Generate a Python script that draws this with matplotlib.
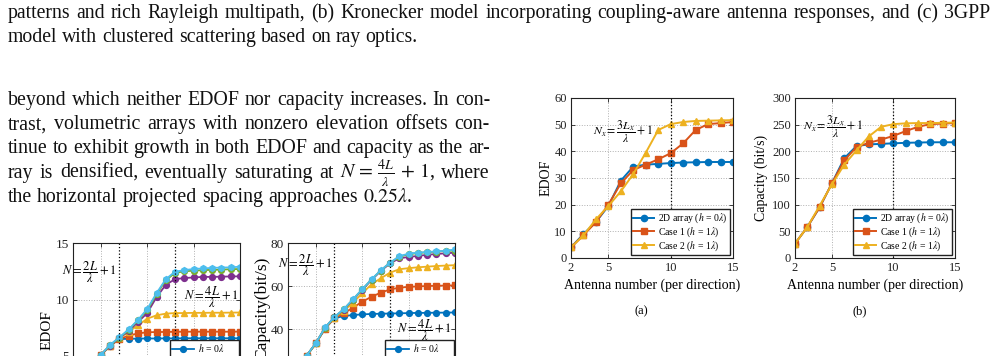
import matplotlib
matplotlib.use('Agg')
import matplotlib.pyplot as plt

W, H = 999, 356

# ---- data ----
N_A = list(range(2, 16))
EDOF_2D = [4, 9, 13.5, 19.5, 29, 34.3, 35, 35.3, 35.6, 35.8, 35.9, 36, 36, 36]
EDOF_C1 = [4, 8.5, 13.5, 20, 28, 33, 35, 37, 39.3, 43, 48, 50.2, 50.6, 51]
EDOF_C2 = [4, 8.5, 14.5, 19.5, 25, 31.5, 39.5, 48, 50.2, 51, 51.4, 51.5, 51.6, 51.7]
CAP_2D = [27, 58, 95, 140, 187, 210, 213, 214, 215, 216, 216.5, 217, 217, 217]
CAP_C1 = [27, 58, 95, 140, 183, 208, 216, 222, 229, 238, 246, 251, 252, 253]
CAP_C2 = [27, 58, 98, 138, 175, 202, 228, 246, 251, 252.5, 253, 253, 253.5, 254]
LEG_A = ['2D array ($h$ = 0$\\lambda$)', 'Case 1 ($h$ = 1$\\lambda$)', 'Case 2 ($h$ = 1$\\lambda$)']

N_C = list(range(2, 21))
H_LABELS = ['$h$ = 0$\\lambda$', '$h$ = 0.25$\\lambda$', '$h$ = 0.5$\\lambda$',
            '$h$ = 0.75$\\lambda$', '$h$ = 1$\\lambda$', '$h$ = 1.25$\\lambda$']
EDOF_H = [
    [3.0, 3.7, 4.4, 5.1, 5.9, 6.5, 6.52, 6.54, 6.55, 6.55, 6.56, 6.56, 6.57, 6.57, 6.57, 6.57, 6.57, 6.57, 6.57],
    [3.0, 3.7, 4.4, 5.1, 5.9, 6.5, 6.8, 7.0, 7.1, 7.12, 7.13, 7.14, 7.15, 7.15, 7.15, 7.15, 7.15, 7.15, 7.16],
    [3.0, 3.7, 4.4, 5.1, 5.9, 6.6, 7.15, 7.7, 8.3, 8.6, 8.75, 8.8, 8.8, 8.82, 8.82, 8.83, 8.83, 8.84, 8.85],
    [3.0, 3.7, 4.4, 5.1, 5.9, 6.6, 7.2, 8.0, 8.8, 10.2, 11.3, 11.8, 11.9, 11.95, 12.0, 12.0, 12.02, 12.04, 12.05],
    [3.0, 3.7, 4.4, 5.1, 5.95, 6.62, 7.3, 8.15, 9.05, 10.45, 11.7, 12.35, 12.5, 12.55, 12.6, 12.62, 12.65, 12.68, 12.7],
    [3.0, 3.7, 4.4, 5.1, 6.0, 6.65, 7.36, 8.19, 9.16, 10.55, 11.8, 12.46, 12.6, 12.7, 12.75, 12.8, 12.82, 12.85, 12.9],
]
CAP_H = [
    [15, 21, 27.5, 33.3, 40.2, 45.0, 46.0, 46.5, 46.8, 47.0, 47.1, 47.2, 47.3, 47.4, 47.5, 47.5, 47.6, 47.6, 47.7],
    [15, 21, 27.5, 33.3, 40.2, 45.0, 47.3, 49.9, 52.7, 55.0, 56.9, 58.4, 59.2, 59.6, 59.8, 60.0, 60.1, 60.2, 60.3],
    [15, 21, 27.5, 33.3, 40.5, 45.3, 48.4, 52.2, 56.6, 60.8, 63.6, 66.2, 67.8, 68.3, 68.7, 69.0, 69.3, 69.5, 69.7],
    [15, 21, 27.5, 33.4, 40.6, 45.5, 49.0, 53.5, 58.2, 62.8, 67.0, 70.5, 72.9, 73.5, 74.0, 74.5, 74.9, 75.2, 75.5],
    [15, 21, 27.5, 33.4, 40.6, 45.5, 49.1, 53.7, 58.4, 63.0, 67.2, 70.8, 73.6, 74.8, 75.3, 75.7, 76.0, 76.3, 76.5],
    [15, 21, 27.6, 33.5, 40.7, 45.6, 49.2, 53.8, 58.5, 63.1, 67.3, 70.9, 73.8, 75.1, 75.5, 75.8, 76.1, 76.4, 77.0],
]

CAPTION = [
    'patterns and rich Rayleigh multipath, (b) Kronecker model incorporating coupling-aware antenna responses, and (c) 3GPP',
    'model with clustered scattering based on ray optics.',
]
BODY = [
    'beyond which neither EDOF nor capacity increases. In con-'.split(),
    'trast, volumetric arrays with nonzero elevation offsets con-'.split(),
    'tinue to exhibit growth in both EDOF and capacity as the ar-'.split(),
    ['ray', 'is', 'densified,', 'eventually', 'saturating', 'at',
     '$N\\,=\\,\\frac{4L}{\\lambda}\\,+\\,1$,', 'where'],
    ['the', 'horizontal', 'projected', 'spacing', 'approaches', '$0.25\\lambda$.'],
]

COLORS = ['#0072BD', '#D95319', '#EDB120', '#7E2F8E', '#77AC30', '#4DBEEE']
MARKERS = ['o', 's', '^', 'o', 'o', 'h']

plt.rcParams.update({
    'font.family': 'serif',
    'font.serif': ['Liberation Serif'],
    'mathtext.fontset': 'stix',
    'axes.linewidth': 0.8,
    'xtick.direction': 'in',
    'ytick.direction': 'in',
    'xtick.top': True,
    'ytick.right': True,
    'xtick.major.size': 3,
    'ytick.major.size': 3,
    'xtick.major.width': 0.6,
    'ytick.major.width': 0.6,
})

fig = plt.figure(figsize=(W / 100, H / 100), dpi=100)
rend = fig.canvas.get_renderer()


def px_axes(left, top, right, bottom):
    return fig.add_axes([left / W, 1 - bottom / H, (right - left) / W, (bottom - top) / H])


def fit_size(s, width, base=10):
    t = fig.text(0, 0, s, fontsize=base)
    w = t.get_window_extent(rend).width
    t.remove()
    return base * width / w


def put_line(tokens, x0, y, size, x1=None):
    arts = [fig.text(0, 0, t, fontsize=size, va='baseline', ha='left', color='#111111')
            for t in tokens]
    widths = [a.get_window_extent(rend).width for a in arts]
    if x1 is None:
        gap = 0.25 * size * 100 / 72
    else:
        gap = (x1 - x0 - sum(widths)) / (len(tokens) - 1)
    x = x0
    for a, w in zip(arts, widths):
        a.set_position((x / W, 1 - y / H))
        x += w + gap


def style(ax, fs):
    ax.grid(True, ls=':', color='#b0b0b0', lw=0.7)
    ax.tick_params(labelsize=fs, pad=3, colors='#222222')
    for s in ax.spines.values():
        s.set_color('#222222')


LEG_KW = dict(frameon=True, fancybox=False, edgecolor='#222222', borderpad=0.25,
              labelspacing=0.02, handlelength=2.2, handletextpad=0.4, framealpha=1)

# ---- text ----
cap_fs = fit_size(CAPTION[0], 968)
put_line(CAPTION[0].split(), 8, 18, cap_fs, x1=990)
put_line(CAPTION[1].split(), 8, 42, cap_fs)

body_fs = fit_size(' '.join(BODY[4]), 405)
for i, toks in enumerate(BODY):
    y = 105 + 24.2 * i
    put_line(toks, 8, y, body_fs, x1=490 if i < 4 else None)

# ---- (a) EDOF ----
ax = px_axes(571, 98, 733, 258)
ax.plot(N_A, EDOF_2D, color=COLORS[0], marker='o', ms=4.5, lw=1.4, label=LEG_A[0])
ax.plot(N_A, EDOF_C1, color=COLORS[1], marker='s', ms=3.8, lw=1.4, label=LEG_A[1])
ax.plot(N_A, EDOF_C2, color=COLORS[2], marker='^', ms=4.5, lw=1.4, label=LEG_A[2])
ax.axvline(10, color='k', ls=':', lw=0.9)
ax.set_xlim(2, 15)
ax.set_ylim(0, 60)
ax.set_xticks([2, 5, 10, 15])
ax.set_yticks(range(0, 61, 10))
style(ax, 9)
ax.set_xlabel('Antenna number (per direction)', fontsize=10, labelpad=3)
ax.set_ylabel('EDOF', fontsize=10)
ax.yaxis.set_label_coords(-0.117, 0.5)
ax.text(3.75, 47.3, '$N_x = \\dfrac{3L_x}{\\lambda} + 1$', fontsize=8.5, va='center')
ax.legend(loc='lower right', fontsize=7, borderaxespad=0.3, **LEG_KW)
fig.text(641 / W, 1 - 311 / H, '(a)', fontsize=9, ha='center', va='center')

# ---- (b) capacity ----
ax = px_axes(795, 98, 955, 258)
ax.plot(N_A, CAP_2D, color=COLORS[0], marker='o', ms=4.5, lw=1.4, label=LEG_A[0])
ax.plot(N_A, CAP_C1, color=COLORS[1], marker='s', ms=3.8, lw=1.4, label=LEG_A[1])
ax.plot(N_A, CAP_C2, color=COLORS[2], marker='^', ms=4.5, lw=1.4, label=LEG_A[2])
ax.axvline(10, color='k', ls=':', lw=0.9)
ax.set_xlim(2, 15)
ax.set_ylim(0, 300)
ax.set_xticks([2, 5, 10, 15])
ax.set_yticks(range(0, 301, 50))
style(ax, 9)
ax.set_xlabel('Antenna number (per direction)', fontsize=10, labelpad=3)
ax.set_ylabel('Capacity (bit/s)', fontsize=10)
ax.yaxis.set_label_coords(-0.17, 0.5)
ax.text(2.65, 246, '$N_x = \\dfrac{3L_x}{\\lambda} + 1$', fontsize=8.5, va='center')
ax.legend(loc='lower right', fontsize=7, borderaxespad=0.3, **LEG_KW)
fig.text(860 / W, 1 - 311 / H, '(b)', fontsize=9, ha='center', va='center')

# ---- (c) EDOF vs h, cut by the page edge ----
ax = px_axes(73, 243, 240, 412.5)
for ys, c, m, lab in zip(EDOF_H, COLORS, MARKERS, H_LABELS):
    ax.plot(N_C, ys, color=c, marker=m, ms=4.2, lw=1.3, label=lab)
ax.axvline(7, color='k', ls=':', lw=0.9)
ax.axvline(13, color='k', ls=':', lw=0.9)
ax.set_xlim(2, 20)
ax.set_ylim(0, 15)
ax.set_xticks([2, 5, 10, 15, 20])
ax.set_yticks([0, 5, 10, 15])
style(ax, 9.5)
ax.tick_params(axis='x', labelbottom=False)  # below the page edge anyway
ax.set_ylabel('EDOF', fontsize=11)
ax.yaxis.set_label_coords(-0.114, 0.487)
ax.text(0.85, 12.43, '$N = \\dfrac{2L}{\\lambda} + 1$', fontsize=9, va='center')
ax.text(13.95, 10.2, '$N = \\dfrac{4L}{\\lambda} + 1$', fontsize=9, va='center')
ax.legend(loc='upper left', bbox_to_anchor=(0.58, 0.428), fontsize=7, borderaxespad=0, **LEG_KW)

# ---- (d) capacity vs h ----
ax = px_axes(288, 243, 455, 372)
for ys, c, m, lab in zip(CAP_H, COLORS, MARKERS, H_LABELS):
    ax.plot(N_C, ys, color=c, marker=m, ms=4.2, lw=1.3, label=lab)
ax.axvline(7, color='k', ls=':', lw=0.9)
ax.axvline(13, color='k', ls=':', lw=0.9)
ax.set_xlim(2, 20)
ax.set_ylim(20, 80)
ax.set_xticks([2, 5, 10, 15, 20])
ax.set_yticks([20, 40, 60, 80])
style(ax, 9.5)
ax.tick_params(axis='x', labelbottom=False)
ax.set_ylabel('Capacity(bit/s)', fontsize=12.5)
ax.yaxis.set_label_coords(-0.108, 0.49)
ax.text(0.92, 69.8, '$N = \\dfrac{2L}{\\lambda} + 1$', fontsize=9, va='center')
ax.text(13.75, 39.5, '$N = \\dfrac{4L}{\\lambda} + 1$', fontsize=9, va='center')
ax.legend(loc='upper left', bbox_to_anchor=(0.58, 0.248), fontsize=7, borderaxespad=0, **LEG_KW)

fig.savefig('out.png', dpi=100)
